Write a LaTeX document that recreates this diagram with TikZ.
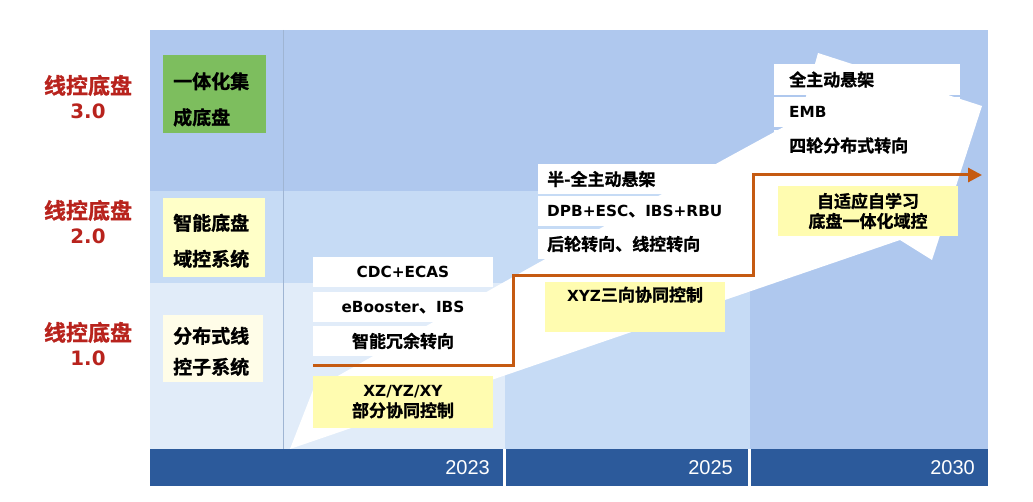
\documentclass[tikz,border=0pt]{standalone}
\usepackage{fontspec}
\usetikzlibrary{arrows.meta}
\setmainfont{DejaVu Sans}[Scale=0.9]
\newfontfamily\cjk{Noto Sans CJK SC}[BoldFont={Noto Sans CJK SC Bold},
    BoldFeatures={FakeBold=1.2}]
\newfontfamily\yearfont{Liberation Sans}
\newcommand{\zh}[1]{{\cjk #1}}
\definecolor{panelblue}{HTML}{AFC8EE}
\definecolor{midblue}{HTML}{C6DBF5}
\definecolor{paleblue}{HTML}{E1ECF9}
\definecolor{gridline}{HTML}{9FB5D3}
\definecolor{barblue}{HTML}{2C5A9B}
\definecolor{boxyellow}{HTML}{FFFCB0}
\definecolor{stageyellow}{HTML}{FFFFC8}
\definecolor{stagepale}{HTML}{FFFDE8}
\definecolor{stagegreen}{HTML}{7DBE5E}
\definecolor{levelred}{HTML}{B8231D}
\definecolor{lineorange}{HTML}{C55A11}

\begin{document}
\begin{tikzpicture}[x=1pt, y=-1pt,
    wbox/.style={fill=white, inner sep=0pt, minimum height=30pt,
        font=\bfseries\fontsize{17}{20}\selectfont},
    ybox/.style={fill=boxyellow, inner sep=0pt, align=center,
        font=\bfseries\fontsize{17}{20}\selectfont},
    stage/.style={anchor=west, inner xsep=10pt, inner ysep=0pt, align=left,
        font=\bfseries\fontsize{19}{36}\selectfont},
    level/.style={text=levelred, align=center,
        font=\bfseries\fontsize{22}{25}\selectfont},
    year/.style={text=white, anchor=east, font=\yearfont\fontsize{20}{24}\selectfont},
    stepline/.style={line width=3pt, draw=lineorange,
        -{Triangle[length=14pt,width=14pt]}}
]
    \useasboundingbox (0,0) rectangle (1033,502);
    \fill[panelblue] (150,30) rectangle (988,449);
    \fill[midblue] (150,191) rectangle (750,449);
    \fill[paleblue] (150,283) rectangle (505,449);
    \draw[gridline, line width=0.8pt] (283,30) -- (283,449);
    \fill[white] (290,449) -- (900,240) -- (932,260) -- (982,106) -- (818,53)
        -- (800,118) -- (723,160) -- (513,277) -- (313,390) -- cycle;
    \fill[barblue] (150,449) rectangle (503,486);
    \fill[barblue] (506,449) rectangle (748,486);
    \fill[barblue] (751,449) rectangle (988,486);
    \node[year] (y2023) at (493,468) {2023};
    \node[year] (y2025) at (736,468) {2025};
    \node[year] (y2030) at (978,468) {2030};
    \node[level] (lv3) at (88,97) {\zh{线控底盘}\\{\fontsize{22}{25}\selectfont 3.0}};
    \node[level] (lv2) at (88,222) {\zh{线控底盘}\\{\fontsize{22}{25}\selectfont 2.0}};
    \node[level] (lv1) at (88,344) {\zh{线控底盘}\\{\fontsize{22}{25}\selectfont 1.0}};
    \node[stage, fill=stagegreen, text width=83pt, minimum height=78pt,
        text height=27pt] (integ) at (163,94) {\zh{一体化集}\\\zh{成底盘}};
    \node[stage, fill=stageyellow, text width=82pt, minimum height=79pt,
        text height=23pt] (domain) at (163,237.5) {\zh{智能底盘}\\\zh{域控系统}};
    \node[stage, fill=stagepale, text width=80pt, minimum height=67pt,
        text height=22pt, font=\bfseries\fontsize{19}{31}\selectfont] (distrib)
        at (163,348.5) {\zh{分布式线}\\\zh{控子系统}};
    \node[wbox, minimum width=180pt] (cdc) at (403,272) {CDC+ECAS};
    \node[wbox, minimum width=180pt] (ebooster) at (403,307) {eBooster\zh{、}IBS};
    \node[wbox, minimum width=180pt] (redund) at (403,341) {\zh{智能冗余转向}};
    \node[ybox, minimum width=180pt, minimum height=52pt] (xzyz)
        at (403,402) {XZ/YZ/XY\\\zh{部分协同控制}};
    \node[wbox, anchor=west, text width=166pt, inner xsep=9pt] (semi)
        at (538,179) {\zh{半-全主动悬架}};
    \node[wbox, anchor=west, text width=166pt, inner xsep=9pt] (dpb)
        at (538,211) {DPB+ESC\zh{、}IBS+RBU};
    \node[wbox, anchor=west, text width=166pt, inner xsep=9pt] (rear)
        at (538,244) {\zh{后轮转向、线控转向}};
    \node[ybox, anchor=north, minimum width=180pt, inner ysep=6pt,
        text height=13pt, text depth=25pt] (xyz) at (635,282) {XYZ\zh{三向协同控制}};
    \node[wbox, anchor=west, text width=156pt, inner xsep=15pt, minimum height=31pt] (full)
        at (774,79.5) {\zh{全主动悬架}};
    \node[wbox, anchor=west, text width=156pt, inner xsep=15pt] (emb)
        at (774,112) {EMB};
    \node[wbox, anchor=west, text width=156pt, inner xsep=15pt, minimum height=31pt] (fourwheel)
        at (774,145.5) {\zh{四轮分布式转向}};
    \node[ybox, minimum width=180pt, minimum height=50pt] (adaptive)
        at (868,211) {\zh{自适应自学习}\\\zh{底盘一体化域控}};
    \coordinate (s0) at (313,366);
    \coordinate (s1) at (513,276);
    \coordinate (s2) at (753,175);
    \coordinate (s3) at (982,175);
    \draw[stepline] (s0) -| (s1) -| (s2) -- (s3);
\end{tikzpicture}
\end{document}
